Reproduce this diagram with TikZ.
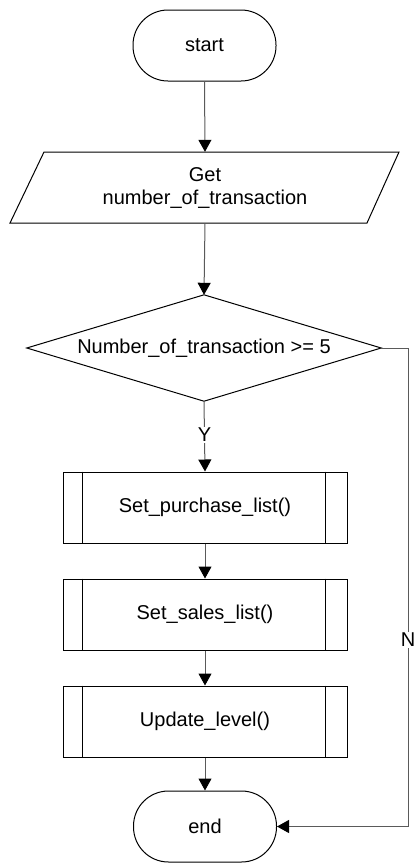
\documentclass[tikz,border=0pt]{standalone}
\usepackage{fontspec}
\setmainfont{Liberation Sans}
\usetikzlibrary{arrows.meta,calc}
\definecolor{linkgray}{HTML}{5A5A5A}
\tikzset{
  every node/.style={font=\fontsize{20}{23}\selectfont, inner sep=0pt},
  terminal/.style={draw=black, line width=1pt, rectangle, rounded corners=35pt,
    minimum width=143pt, minimum height=71pt},
  subproc/.style={draw=black, line width=1pt, rectangle,
    minimum width=284pt, minimum height=71pt},
  hidden/.style={rectangle, minimum height=71pt, minimum width=200pt, align=center},
  outline/.style={draw=black, line width=1pt, line join=miter},
  conn/.style={draw=linkgray, line width=1pt,
    -{Triangle[length=12pt,width=13pt,color=black]}},
  lbl/.style={fill=white, inner sep=1.5pt}
}
\begin{document}
\begin{tikzpicture}[x=1pt,y=-1pt]
  \useasboundingbox (0,0) rectangle (413,863);

  % terminals
  \node[terminal] (start) at (204.5,45.5) {start};
  \node[terminal] (end) at (205,826.5) {end};

  % input: parallelogram drawn around an invisible node
  \node[hidden] (get) at (205,187.5) {Get\\number\_of\_transaction};
  \draw[outline] ($(get.center)+(-161,-35.5)$) -- ($(get.center)+(194,-35.5)$)
    -- ($(get.center)+(162,35.5)$) -- ($(get.center)+(-195,35.5)$) -- cycle;

  % decision: diamond drawn from the anchors of a sized node
  \node[hidden, minimum width=354pt, minimum height=106pt] (dec) at (204,348)
    {Number\_of\_transaction >= 5};
  \draw[outline] (dec.west) -- (dec.north) -- (dec.east) -- (dec.south) -- cycle;

  % predefined processes with their side bars
  \node[subproc] (p1) at (205,507.5) {Set\_purchase\_list()};
  \node[subproc] (p2) at (205,614.5) {Set\_sales\_list()};
  \node[subproc] (p3) at (205,721.5) {Update\_level()};
  \foreach \p in {p1,p2,p3}{
    \draw[outline] ($(\p.north west)+(20,0)$) -- ($(\p.south west)+(20,0)$);
    \draw[outline] ($(\p.north east)+(-22,0)$) -- ($(\p.south east)+(-22,0)$);
  }

  % connectors
  \draw[conn] (start.south) -- (get.north);
  \draw[conn] (get.south) -- (dec.north);
  \draw[conn] (dec.south) -- node[lbl, pos=0.48]{Y} (p1.north);
  \draw[conn] (p1.south) -- (p2.north);
  \draw[conn] (p2.south) -- (p3.north);
  \draw[conn] (p3.south) -- (end.north);

  \coordinate (nr) at ($(dec.east)+(27,0)$);
  \draw[conn] (dec.east) -- (nr) -- node[lbl, pos=0.61]{N} (nr |- end.east) -- (end.east);
\end{tikzpicture}
\end{document}
